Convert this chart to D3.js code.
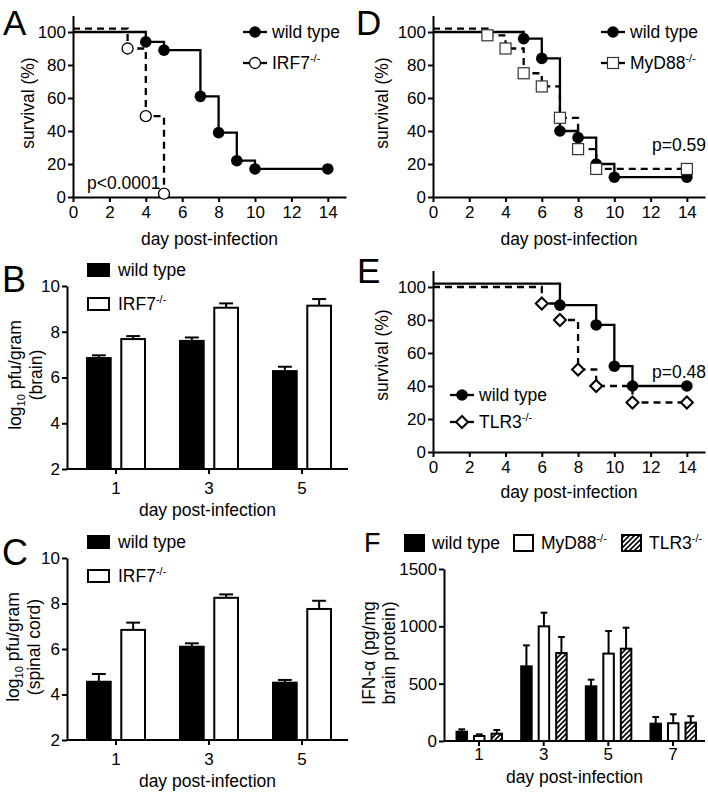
<!DOCTYPE html>
<html><head><meta charset="utf-8">
<script src="https://cdn.jsdelivr.net/npm/d3@7"></script>
<style>body{margin:0;background:#fff}</style>
</head><body><svg id="c" width="708" height="794" xmlns="http://www.w3.org/2000/svg"></svg>
<script>
// ---------- DATA ----------
const dayTicks = [0,2,4,6,8,10,12,14];
const survTicks = [0,20,40,60,80,100];

// Panel A
const aWtDays = [0,4,5,7,8,9,10,14];
const aWtSurv = [100,94,89,61,39,22,17,17];
const aIrfDays = [0,3,4,5];
const aIrfSurv = [102,90,49,2];
// Panel D
const dWtDays = [0,5,6,7,8,9,10,14];
const dWtSurv = [100,96,84,40,36,20,12,12];
const dMydDays = [0,3,4,5,6,7,8,9,14];
const dMydSurv = [102,98,90,75,67,48,29,17,17];
// Panel E
const eWtDays = [0,7,9,10,11,14];
const eWtSurv = [102,89,77,52,40,40];
const eTlrDays = [0,6,7,8,9,11,14];
const eTlrSurv = [100,90,80,50,40,30,30];

// Panels B & C
const bcDays = ["1","3","5"];
const bcTicks = [2,4,6,8,10];
const bWt = [6.85,7.60,6.28];
const bWtErr = [0.12,0.15,0.19];
const bIrf = [7.68,9.05,9.14];
const bIrfErr = [0.13,0.19,0.29];
const cWt = [4.56,6.10,4.52];
const cWtErr = [0.34,0.15,0.12];
const cIrf = [6.84,8.25,7.76];
const cIrfErr = [0.32,0.15,0.36];

// Panel F
const fDays = ["1","3","5","7"];
const fTicks = [0,500,1000,1500];
const fWt = [81,651,477,151];
const fWtErr = [21,183,58,58];
const fMyd = [44,1000,762,155];
const fMydErr = [14,119,197,78];
const fTlr = [64,767,805,160];
const fTlrErr = [32,140,183,56];

// ---------- DRAWING ----------
const FONT = '"Liberation Sans", Arial, Helvetica, sans-serif';
const svg = d3.select("#c");
svg.append("rect").attr("width",708).attr("height",794).attr("fill","#fff");

const defs = svg.append("defs");
const pat = defs.append("pattern").attr("id","hatch").attr("patternUnits","userSpaceOnUse")
  .attr("width",5).attr("height",5);
pat.append("rect").attr("width",5).attr("height",5).attr("fill","#fff");
pat.append("path").attr("d","M-1,1 l2,-2 M0,5 l5,-5 M4,6 l2,-2")
  .attr("stroke","#000").attr("stroke-width",1.6);

function styleAxis(g){
  g.selectAll("path.domain").attr("stroke","#000").attr("stroke-width",2);
  g.selectAll(".tick line").attr("stroke","#000").attr("stroke-width",2);
  g.selectAll(".tick text").attr("font-size",17).attr("font-family",FONT).attr("fill","#000");
}

function txt(g, x, y, s, opts={}){
  const t = g.append("text").attr("x",x).attr("y",y).attr("font-family",FONT)
    .attr("font-size",opts.size||17.5).attr("fill","#000");
  if (s) t.text(s);
  if (opts.anchor) t.attr("text-anchor",opts.anchor);
  if (opts.rotate) t.attr("transform",`rotate(-90,${x},${y})`);
  return t;
}
function supLabel(t, main, sup){
  t.append("tspan").text(main);
  if (sup) t.append("tspan").attr("font-size",11).attr("dy",-7).text(sup);
}

function marker(g, type, cx, cy){
  if (type==="fcircle") g.append("circle").attr("cx",cx).attr("cy",cy).attr("r",5.8).attr("fill","#000");
  else if (type==="ocircle") g.append("circle").attr("cx",cx).attr("cy",cy).attr("r",5.5)
    .attr("fill","#fff").attr("stroke","#000").attr("stroke-width",1.3);
  else if (type==="square") g.append("rect").attr("x",cx-5.5).attr("y",cy-5.5).attr("width",11).attr("height",11)
    .attr("fill","#fff").attr("stroke","#333").attr("stroke-width",1.2);
  else if (type==="diamond") g.append("path")
    .attr("d",`M${cx},${cy-6}L${cx+6},${cy}L${cx},${cy+6}L${cx-6},${cy}Z`)
    .attr("fill","#fff").attr("stroke","#000").attr("stroke-width",2);
}

function survPanel(p){
  const g = svg.append("g");
  const x = d3.scaleLinear().domain([0,15]).range([p.left,p.right]);
  const y = d3.scaleLinear().domain([0,110]).range([p.bottom,p.bottom-181.5]);
  g.append("g").attr("transform",`translate(0,${p.bottom})`)
    .call(d3.axisBottom(x).tickValues(dayTicks).tickSize(5).tickSizeOuter(0).tickPadding(4)).call(styleAxis);
  g.append("g").attr("transform",`translate(${p.left},0)`)
    .call(d3.axisLeft(y).tickValues(survTicks).tickSize(5).tickSizeOuter(0).tickPadding(2)).call(styleAxis);
  const line = d3.line().x(d=>x(d[0])).y(d=>y(d[1])).curve(d3.curveStepAfter);
  const all = p.series.map(s=>s.days.map((d,i)=>[d,s.surv[i]]));
  p.series.forEach((s,k)=>{
    g.append("path").attr("d",line(all[k])).attr("fill","none").attr("stroke","#000")
      .attr("stroke-width",2.3).attr("stroke-dasharray",s.dashed?"7,5":null);
  });
  p.series.forEach((s,k)=>{
    all[k].slice(1).forEach(pt=>marker(g,s.marker,x(pt[0]),y(pt[1])));
  });
  // legend
  p.series.forEach((s,k)=>{
    const ly = p.legY + k*p.legStep;
    g.append("line").attr("x1",p.legX-12).attr("x2",p.legX+12).attr("y1",ly).attr("y2",ly)
      .attr("stroke","#000").attr("stroke-width",2.3);
    marker(g,s.marker,p.legX,ly);
    supLabel(txt(g,p.legX+17,ly+6,""), s.name, s.sup);
  });
  // labels
  txt(g,p.ylabX,p.ylabY,"survival (%)",{anchor:"middle",rotate:true}).attr("dy","0.35em");
  txt(g,(p.left+p.right)/2,p.xlabY,"day post-infection",{anchor:"middle"});
  txt(g,p.pX,p.pY,p.pText,{anchor:p.pAnchor});
  txt(g,p.letX,p.letY,p.letter,{size:p.letSize||35});
}

function barPanel(p){
  const g = svg.append("g");
  const x0 = d3.scaleBand().domain(p.cats).range([p.bandStart,p.bandEnd]);
  const x1 = d3.scaleBand().domain(p.series.map(s=>s.name)).range(p.inner).paddingInner(p.pad);
  const y = d3.scaleLinear().domain(p.yDomain).range([p.bottom,p.top]);
  const xa = g.append("g").attr("transform",`translate(0,${p.bottom})`)
    .call(d3.axisBottom(x0).tickSize(5).tickSizeOuter(0).tickPadding(p.xPad)).call(styleAxis);
  xa.select("path.domain").attr("d",`M${p.left},0H${p.right}`);
  g.append("g").attr("transform",`translate(${p.left},0)`)
    .call(d3.axisLeft(y).tickValues(p.yTicks).tickFormat(d3.format("d")).tickSize(5).tickSizeOuter(0).tickPadding(2)).call(styleAxis);
  const bw = x1.bandwidth();
  p.series.forEach(s=>{
    p.cats.forEach((c,i)=>{
      const bx = x0(c)+x0.bandwidth()/2 + x1(s.name);
      const v = s.vals[i], e = s.errs[i];
      const cx = bx + bw/2;
      g.append("line").attr("x1",cx).attr("x2",cx).attr("y1",y(v)).attr("y2",y(v+e))
        .attr("stroke","#000").attr("stroke-width",2);
      g.append("line").attr("x1",cx-bw*0.27).attr("x2",cx+bw*0.27).attr("y1",y(v+e)).attr("y2",y(v+e))
        .attr("stroke","#000").attr("stroke-width",2);
      g.append("rect").attr("x",bx+1).attr("y",y(v)).attr("width",bw-2).attr("height",y(p.yDomain[0])-y(v))
        .attr("fill",s.fill).attr("stroke","#000").attr("stroke-width",2);
    });
  });
  // legend
  p.series.forEach((s,k)=>{
    const lx = p.legX[k], ly = p.legY[k];
    g.append("rect").attr("x",lx).attr("y",ly-p.legH/2).attr("width",p.legW).attr("height",p.legH)
      .attr("fill",s.fill).attr("stroke","#000").attr("stroke-width",2);
    supLabel(txt(g,lx+p.legW+p.legGap,ly+6,""), s.name, s.sup);
  });
  // y label lines
  p.ylab.forEach(l=>{
    const t = txt(g,l.x,p.ylabY,"",{anchor:"middle",rotate:true}).attr("dy","0.35em");
    l.parts.forEach(pt=>{
      const ts = t.append("tspan").text(pt.t);
      if (pt.sub) ts.attr("font-size",11).attr("dy",4);
      if (pt.after) ts.attr("dy",-4);
    });
  });
  txt(g,(p.left+p.right)/2,p.xlabY,"day post-infection",{anchor:"middle"});
  txt(g,p.letX,p.letY,p.letter,{size:p.letSize||36});
}

// A
survPanel({left:73,right:346,bottom:197,
  series:[{name:"wild type",days:aWtDays,surv:aWtSurv,marker:"fcircle",dashed:false},
          {name:"IRF7",sup:"-/-",days:aIrfDays,surv:aIrfSurv,marker:"ocircle",dashed:true}],
  legX:255,legY:32,legStep:31,ylabX:28,ylabY:103,xlabY:245,
  pX:87,pY:189,pText:"p<0.0001",pAnchor:"start",letter:"A",letX:3,letY:35});
// D
survPanel({left:433,right:705,bottom:197,
  series:[{name:"wild type",days:dWtDays,surv:dWtSurv,marker:"fcircle",dashed:false},
          {name:"MyD88",sup:"-/-",days:dMydDays,surv:dMydSurv,marker:"square",dashed:true}],
  legX:613,legY:32,legStep:31,ylabX:382,ylabY:103,xlabY:245,
  pX:706,pY:151,pText:"p=0.59",pAnchor:"end",letter:"D",letX:356,letY:35});
// E
survPanel({left:433,right:705,bottom:452,
  series:[{name:"wild type",days:eWtDays,surv:eWtSurv,marker:"fcircle",dashed:false},
          {name:"TLR3",sup:"-/-",days:eTlrDays,surv:eTlrSurv,marker:"diamond",dashed:true}],
  legX:462,legY:395,legStep:27,ylabX:382,ylabY:355,xlabY:498,
  pX:706,pY:378,pText:"p=0.48",pAnchor:"end",letter:"E",letX:357,letY:283});

// B
barPanel({cats:bcDays,left:67,right:348,bandStart:69.5,bandEnd:348.5,inner:[-30,30],pad:0.25,
  yDomain:[2,10],yTicks:bcTicks,bottom:469,top:286,xPad:8,
  series:[{name:"wild type",vals:bWt,errs:bWtErr,fill:"#000"},
          {name:"IRF7",sup:"-/-",vals:bIrf,errs:bIrfErr,fill:"#fff"}],
  legX:[88,88],legY:[270,304],legW:21,legH:12,legGap:9,
  ylab:[{x:15,parts:[{t:"log"},{t:"10",sub:true},{t:" pfu/gram",after:true}]},{x:36,parts:[{t:"(brain)"}]}],
  ylabY:375,xlabY:516,letter:"B",letX:2,letY:292});
// C
barPanel({cats:bcDays,left:67,right:348,bandStart:69.5,bandEnd:348.5,inner:[-30,30],pad:0.25,
  yDomain:[2,10],yTicks:bcTicks,bottom:740,top:558,xPad:8,
  series:[{name:"wild type",vals:cWt,errs:cWtErr,fill:"#000"},
          {name:"IRF7",sup:"-/-",vals:cIrf,errs:cIrfErr,fill:"#fff"}],
  legX:[88,88],legY:[542,576],legW:21,legH:12,legGap:9,
  ylab:[{x:13,parts:[{t:"log"},{t:"10",sub:true},{t:" pfu/gram",after:true}]},{x:34,parts:[{t:"(spinal cord)"}]}],
  ylabY:647,xlabY:787,letter:"C",letX:2,letY:565});
// F
barPanel({cats:fDays,left:444,right:705,bandStart:446.7,bandEnd:705.3,inner:[-23.5,24],pad:0.286,
  yDomain:[0,1500],yTicks:fTicks,bottom:741,top:569,xPad:2,
  series:[{name:"wild type",vals:fWt,errs:fWtErr,fill:"#000"},
          {name:"MyD88",sup:"-/-",vals:fMyd,errs:fMydErr,fill:"#fff"},
          {name:"TLR3",sup:"-/-",vals:fTlr,errs:fTlrErr,fill:"url(#hatch)"}],
  legX:[405,514,622],legY:[543,543,543],legW:19,legH:16,legGap:8,
  ylab:[{x:369,parts:[{t:"IFN-α (pg/mg"}]},{x:389,parts:[{t:"brain protein)"}]}],
  ylabY:653,xlabY:783,letter:"F",letX:364,letY:552,letSize:27});
</script></body></html>
